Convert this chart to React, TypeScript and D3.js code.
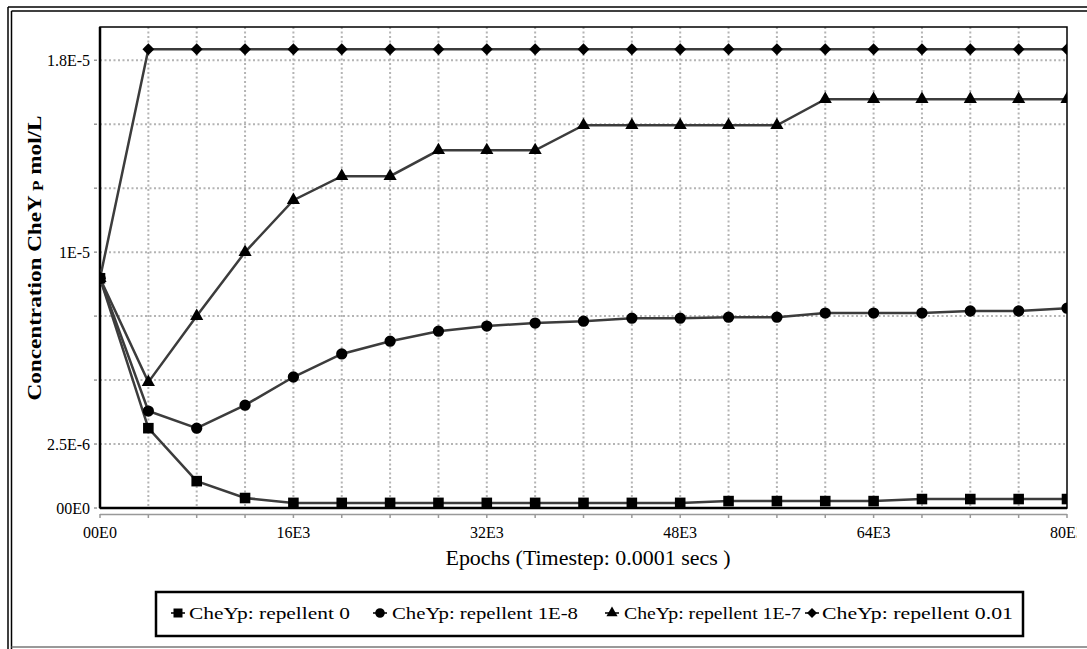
import React from "react";
import * as d3 from "d3";

const epochs = [0, 4000, 8000, 12000, 16000, 20000, 24000, 28000, 32000, 36000, 40000, 44000, 48000, 52000, 56000, 60000, 64000, 68000, 72000, 76000, 80000];

const rep0 = [8.98e-6, 3.12e-6, 1.05e-6, 0.39e-6, 0.2e-6, 0.2e-6, 0.2e-6, 0.2e-6, 0.2e-6, 0.2e-6, 0.2e-6, 0.2e-6, 0.2e-6, 0.27e-6, 0.27e-6, 0.27e-6, 0.27e-6, 0.35e-6, 0.35e-6, 0.35e-6, 0.35e-6];
const rep1e8 = [8.98e-6, 3.79e-6, 3.12e-6, 4.02e-6, 5.12e-6, 6.02e-6, 6.52e-6, 6.91e-6, 7.11e-6, 7.23e-6, 7.3e-6, 7.42e-6, 7.42e-6, 7.46e-6, 7.46e-6, 7.62e-6, 7.62e-6, 7.62e-6, 7.7e-6, 7.7e-6, 7.81e-6];
const rep1e7 = [8.98e-6, 4.92e-6, 7.5e-6, 10.0e-6, 12.03e-6, 12.97e-6, 12.97e-6, 13.98e-6, 13.98e-6, 13.98e-6, 14.96e-6, 14.96e-6, 14.96e-6, 14.96e-6, 14.96e-6, 15.98e-6, 15.98e-6, 15.98e-6, 15.98e-6, 15.98e-6, 15.98e-6];
const rep001 = [8.98e-6, 17.93e-6, 17.93e-6, 17.93e-6, 17.93e-6, 17.93e-6, 17.93e-6, 17.93e-6, 17.93e-6, 17.93e-6, 17.93e-6, 17.93e-6, 17.93e-6, 17.93e-6, 17.93e-6, 17.93e-6, 17.93e-6, 17.93e-6, 17.93e-6, 17.93e-6, 17.93e-6];

const seriesNames = ["CheYp: repellent 0", "CheYp: repellent 1E-8", "CheYp: repellent 1E-7", "CheYp: repellent 0.01"];
const seriesValues = [rep0, rep1e8, rep1e7, rep001];
const seriesSymbols = ["square", "circle", "triangle", "diamond"];

const xTickValues = [0, 16000, 32000, 48000, 64000, 80000];
const xTickLabels = ["00E0", "16E3", "32E3", "48E3", "64E3", "80E3"];
const yTickValues = [0, 2.5e-6, 1e-5, 1.75e-5];
const yTickLabels = ["00E0", "2.5E-6", "1E-5", "1.8E-5"];
const xGridStep = 4000;
const yGridStep = 2.5e-6;

const W = 1087, H = 649;
const L = 100, R = 1067, T = 27, B = 508;

const symbolPath = (kind: string) => {
  if (kind === "square") return d3.symbol(d3.symbolSquare, 112)();
  if (kind === "circle") return d3.symbol(d3.symbolCircle, 100)();
  if (kind === "triangle") return d3.symbol(d3.symbolTriangle, 75)();
  return d3.symbol(d3.symbolSquare, 70)();
};

export default function App() {
  const x = d3.scaleLinear().domain([0, 80000]).range([L, R]);
  const y = d3.scaleLinear().domain([0, 1.88e-5]).range([B, T]);
  const line = d3.line<number>().x((_, i) => x(epochs[i])).y((v) => y(v));
  const xGrid = d3.range(xGridStep, 80000, xGridStep);
  const yGrid = d3.range(yGridStep, 1.88e-5, yGridStep);
  const serif = "'Liberation Serif', 'Times New Roman', serif";
  const legendItems = [
    { mx: 178, tx: 189, tl: 161 },
    { mx: 380, tx: 392, tl: 186 },
    { mx: 612, tx: 624, tl: 177 },
    { mx: 812, tx: 822, tl: 191 },
  ];

  return (
    <svg width={W} height={H} style={{ position: "absolute", left: 0, top: 0, background: "#fff" }} fontFamily={serif}>
      <defs>
        <clipPath id="plotclip"><rect x={L} y={T} width={R - L} height={B - T} /></clipPath>
        <clipPath id="pageclip"><rect x={0} y={0} width={1077} height={H} /></clipPath>
      </defs>
      <rect x={0} y={0} width={W} height={H} fill="#fff" />
      {/* outer frame */}
      <line x1={8} y1={7} x2={W} y2={7} stroke="#000" strokeWidth={1.5} />
      <line x1={11.5} y1={11} x2={W} y2={11} stroke="#000" strokeWidth={1.5} />
      <line x1={8} y1={7} x2={8} y2={H} stroke="#000" strokeWidth={1.5} />
      <line x1={11.5} y1={11} x2={11.5} y2={H} stroke="#000" strokeWidth={1.5} />
      <line x1={11.5} y1={647} x2={W} y2={647} stroke="#777" strokeWidth={1.5} />

      {/* grid */}
      <g stroke="#b4b4b4" strokeWidth={2} strokeDasharray="2,2.5">
        {xGrid.map((v) => (
          <line key={"gx" + v} x1={x(v)} x2={x(v)} y1={T} y2={B} />
        ))}
        {yGrid.map((v) => (
          <line key={"gy" + v} x1={L} x2={R} y1={y(v)} y2={y(v)} />
        ))}
      </g>

      {/* plot border */}
      <rect x={L} y={T} width={R - L} height={B - T} fill="none" stroke="#000" strokeWidth={1.5} />
      <line x1={L} x2={L} y1={T} y2={B} stroke="#000" strokeWidth={2.5} />
      <line x1={L} x2={R} y1={B} y2={B} stroke="#000" strokeWidth={2.5} />

      {/* axis ticks */}
      <line x1={L} x2={R} y1={514.5} y2={514.5} stroke="#999" strokeWidth={1.5} />
      {d3.range(0, 80001, xGridStep).map((v) => (
        <line key={"tx" + v} x1={x(v)} x2={x(v)} y1={514} y2={518} stroke="#999" strokeWidth={1.5} />
      ))}
      {d3.range(0, 1.88e-5, yGridStep).map((v) => (
        <line key={"ty" + v} x1={94} x2={97} y1={y(v)} y2={y(v)} stroke="#999" strokeWidth={1.5} />
      ))}

      {/* series */}
      <g clipPath="url(#plotclip)">
        {seriesValues.map((vals, si) => (
          <path key={"l" + si} d={line(vals) || ""} fill="none" stroke="#3c3c3c" strokeWidth={2.5} />
        ))}
        {seriesValues.map((vals, si) =>
          vals.map((v, i) => (
            <path
              key={"m" + si + "-" + i}
              d={symbolPath(seriesSymbols[si]) || ""}
              transform={`translate(${x(epochs[i])},${y(v)})${seriesSymbols[si] === "diamond" ? " rotate(45)" : ""}`}
              fill="#000"
            />
          ))
        )}
      </g>

      {/* tick labels */}
      <g fontSize={16} fill="#000" clipPath="url(#pageclip)">
        {yTickValues.map((v, i) => (
          <text key={"yl" + i} x={90} y={y(v)} dy="0.35em" textAnchor="end">{yTickLabels[i]}</text>
        ))}
        {xTickValues.map((v, i) => (
          <text key={"xl" + i} x={x(v)} y={538} textAnchor="middle">{xTickLabels[i]}</text>
        ))}
      </g>

      {/* axis titles */}
      <text x={588} y={565} fontSize={21} textAnchor="middle" textLength={285} lengthAdjust="spacingAndGlyphs" fill="#000">
        Epochs (Timestep: 0.0001 secs )
      </text>
      <text
        transform="translate(41,258) rotate(-90)"
        fontSize={19}
        fontWeight="bold"
        textAnchor="middle"
        textLength={285}
        lengthAdjust="spacingAndGlyphs"
        fill="#000"
      >
        Concentration CheY<tspan fontSize={14} dy={2}> P</tspan><tspan dy={-2}> mol/L</tspan>
      </text>

      {/* legend */}
      <rect x={156} y={592} width={867} height={44} fill="#fff" stroke="#000" strokeWidth={2.5} />
      {legendItems.map((it, si) => (
        <g key={"lg" + si}>
          <line x1={it.mx - 7} x2={it.mx + 7} y1={613} y2={613} stroke="#3c3c3c" strokeWidth={2} />
          <path
            d={symbolPath(seriesSymbols[si]) || ""}
            transform={`translate(${it.mx},613) scale(0.85)${seriesSymbols[si] === "diamond" ? " rotate(45)" : ""}`}
            fill="#000"
          />
          <text x={it.tx} y={619} fontSize={17} textLength={it.tl} lengthAdjust="spacingAndGlyphs" fill="#000">
            {seriesNames[si]}
          </text>
        </g>
      ))}
    </svg>
  );
}
